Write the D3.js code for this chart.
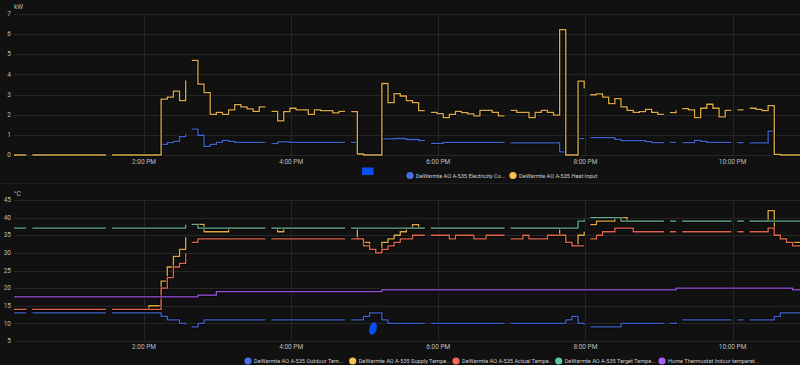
<!DOCTYPE html>
<html>
<head>
<meta charset="utf-8">
<script src="https://cdn.jsdelivr.net/npm/d3@7"></script>
<style>
  body { margin: 0; background: #111111; overflow: hidden; }
  svg { display: block; font-family: Roboto, "Noto Sans", sans-serif; }
</style>
</head>
<body>
<svg id="chart" width="800" height="365"></svg>
<script>
// time window and ticks
const timeStart = "12:14";
const timeEnd = "22:55";
const timeTicks = ["14:00", "16:00", "18:00", "20:00", "22:00"];
const kwTicks = [0, 1, 2, 3, 4, 5, 6, 7];
const tempTicks = [5, 10, 15, 20, 25, 30, 35, 40, 45];

// series: list of segments, each segment = [time, value] steps (gaps between segments)
const electricity = [
  [["12:14", 0], ["12:24", 0]],
  [["12:29", 0], ["13:29", 0]],
  [["13:34", 0], ["14:14", 0.53], ["14:19", 0.61], ["14:24", 0.68], ["14:29", 0.91], ["14:34", 1.06]],
  [["14:39", 1.28], ["14:44", 0.98], ["14:49", 0.43], ["14:54", 0.53], ["14:59", 0.63], ["15:04", 0.73], ["15:09", 0.68], ["15:14", 0.63], ["15:39", 0.63]],
  [["15:44", 0.56], ["15:49", 0.65], ["15:59", 0.63], ["16:44", 0.63]],
  [["16:49", 0.63], ["16:54", 0.05], ["16:59", 0], ["17:14", 0.8], ["17:24", 0.82], ["17:34", 0.77], ["17:44", 0.72], ["17:49", 0.72]],
  [["17:54", 0.58], ["18:04", 0.63], ["18:54", 0.63]],
  [["18:59", 0.6], ["19:39", 0.16], ["19:44", 0], ["19:54", 0.81], ["19:59", 0.81]],
  [["20:04", 0.86], ["20:24", 0.78], ["20:29", 0.71], ["20:49", 0.66], ["20:54", 0.61], ["21:04", 0.61]],
  [["21:09", 0.63], ["21:14", 0.63]],
  [["21:19", 0.61], ["21:29", 0.73], ["21:34", 0.68], ["21:39", 0.63], ["21:59", 0.63]],
  [["22:04", 0.61], ["22:09", 0.61]],
  [["22:14", 0.6], ["22:29", 1.19], ["22:34", 0], ["22:55", 0]]
];

const heatInput = [
  [["12:14", 0], ["12:24", 0]],
  [["12:29", 0], ["13:29", 0]],
  [["13:34", 0], ["14:14", 2.77], ["14:19", 2.87], ["14:24", 3.17], ["14:29", 2.7], ["14:34", 3.7]],
  [["14:39", 4.7], ["14:44", 3.52], ["14:49", 3.1], ["14:54", 2.02], ["14:59", 2.12], ["15:04", 2.02], ["15:09", 2.24], ["15:14", 2.5], ["15:19", 2.39], ["15:24", 2.29], ["15:29", 2.17], ["15:34", 2.39], ["15:39", 2.39]],
  [["15:44", 2.17], ["15:49", 1.69], ["15:54", 2.15], ["15:59", 2.32], ["16:04", 2.24], ["16:14", 2.02], ["16:19", 2.24], ["16:24", 2.2], ["16:34", 2.09], ["16:39", 2.17], ["16:44", 2.17]],
  [["16:49", 2.15], ["16:54", 0.05], ["16:59", 0], ["17:14", 3.55], ["17:19", 2.6], ["17:24", 3.05], ["17:29", 2.93], ["17:34", 2.7], ["17:39", 2.6], ["17:44", 2.2], ["17:49", 2.2]],
  [["17:54", 2.12], ["17:59", 2.05], ["18:04", 1.86], ["18:09", 2.02], ["18:14", 2.17], ["18:19", 2.1], ["18:24", 2.04], ["18:29", 1.94], ["18:34", 2.22], ["18:44", 2.12], ["18:49", 1.94], ["18:54", 1.94]],
  [["18:59", 2.22], ["19:04", 2.12], ["19:14", 1.86], ["19:19", 2.12], ["19:24", 2.22], ["19:29", 2.12], ["19:34", 1.98], ["19:39", 6.22], ["19:44", 0], ["19:54", 3.67], ["19:59", 3.32]],
  [["20:04", 2.99], ["20:09", 3.03], ["20:14", 2.87], ["20:19", 2.55], ["20:24", 2.8], ["20:29", 2.39], ["20:34", 2.22], ["20:39", 2.12], ["20:44", 2.15], ["20:49", 2.27], ["20:54", 2.12], ["20:59", 2.02], ["21:04", 2.02]],
  [["21:09", 2.1], ["21:14", 2.22]],
  [["21:19", 2.3], ["21:24", 2.24], ["21:29", 1.86], ["21:34", 2.32], ["21:39", 2.52], ["21:44", 2.32], ["21:49", 1.89], ["21:54", 2.22], ["21:59", 2.22]],
  [["22:04", 2.24], ["22:09", 2.24]],
  [["22:14", 2.32], ["22:19", 2.27], ["22:24", 2.2], ["22:29", 2.45], ["22:34", 0.03], ["22:39", 0], ["22:55", 0]]
];

const outdoorTemp = [
  [["12:14", 13], ["12:24", 13]],
  [["12:29", 13], ["13:29", 13]],
  [["13:34", 13], ["14:14", 12], ["14:19", 11], ["14:29", 10], ["14:34", 9.6]],
  [["14:39", 9], ["14:44", 10], ["14:49", 11], ["15:39", 11]],
  [["15:44", 11], ["16:44", 11]],
  [["16:49", 11], ["16:59", 12], ["17:04", 13], ["17:14", 11], ["17:19", 10], ["17:49", 10]],
  [["17:54", 10], ["18:54", 10]],
  [["18:59", 10], ["19:44", 11], ["19:49", 12], ["19:54", 10], ["19:59", 9.6]],
  [["20:04", 9], ["20:29", 10], ["21:04", 10]],
  [["21:09", 10], ["21:14", 10.3]],
  [["21:19", 11], ["21:59", 11]],
  [["22:04", 11], ["22:09", 11]],
  [["22:14", 11], ["22:34", 12], ["22:39", 13], ["22:55", 13]]
];

const supplyTemp = [
  [["12:14", 14], ["12:24", 14]],
  [["12:29", 14], ["13:29", 14]],
  [["13:34", 14], ["14:04", 15], ["14:14", 22], ["14:19", 26], ["14:24", 29], ["14:29", 31], ["14:34", 34.4]],
  [["14:39", 38.1], ["14:49", 36], ["15:09", 37], ["15:39", 37]],
  [["15:44", 37], ["15:49", 36], ["15:54", 37], ["16:44", 37]],
  [["16:49", 37], ["16:54", 34], ["16:59", 33], ["17:04", 31], ["17:09", 30], ["17:14", 33], ["17:19", 34], ["17:24", 35], ["17:29", 36], ["17:34", 37], ["17:39", 38], ["17:44", 37], ["17:49", 37]],
  [["17:54", 37], ["18:54", 37]],
  [["18:59", 37], ["19:39", 35], ["19:44", 33], ["19:49", 32], ["19:54", 35], ["19:59", 36]],
  [["20:04", 38], ["20:09", 39], ["20:24", 40], ["20:34", 39], ["21:04", 39]],
  [["21:09", 39], ["21:14", 39]],
  [["21:19", 39], ["21:59", 39]],
  [["22:04", 39], ["22:09", 39]],
  [["22:14", 39], ["22:29", 42], ["22:34", 35], ["22:39", 34], ["22:44", 33], ["22:55", 33]]
];

const actualTemp = [
  [["12:14", 14], ["12:24", 14]],
  [["12:29", 14], ["13:29", 14]],
  [["13:34", 14], ["14:14", 20], ["14:19", 23], ["14:24", 26], ["14:29", 27], ["14:34", 30]],
  [["14:39", 33], ["14:44", 34], ["15:39", 34]],
  [["15:44", 34], ["16:44", 34]],
  [["16:49", 34], ["16:59", 32], ["17:04", 31], ["17:09", 30], ["17:14", 31], ["17:19", 32], ["17:24", 33], ["17:29", 34], ["17:39", 35], ["17:49", 35]],
  [["17:54", 35], ["18:09", 34], ["18:14", 35], ["18:29", 34], ["18:39", 35], ["18:54", 35]],
  [["18:59", 34], ["19:09", 35], ["19:14", 34], ["19:29", 35], ["19:44", 33], ["19:49", 32], ["19:59", 32]],
  [["20:04", 34], ["20:09", 35], ["20:14", 36], ["20:24", 37], ["20:39", 36], ["21:04", 36]],
  [["21:09", 36], ["21:14", 36]],
  [["21:19", 36], ["21:59", 36]],
  [["22:04", 36], ["22:09", 36]],
  [["22:14", 36], ["22:29", 37], ["22:34", 35], ["22:39", 34], ["22:44", 33], ["22:49", 32], ["22:55", 32]]
];

const targetTemp = [
  [["12:14", 37], ["12:24", 37]],
  [["12:29", 37], ["13:29", 37]],
  [["13:34", 37], ["14:34", 38]],
  [["14:39", 38.1], ["14:44", 37], ["15:39", 37]],
  [["15:44", 37], ["16:44", 37]],
  [["16:49", 37], ["17:49", 37]],
  [["17:54", 37], ["18:54", 37]],
  [["18:59", 37], ["19:54", 39], ["19:59", 39.5]],
  [["20:04", 40], ["20:29", 39], ["21:04", 39]],
  [["21:09", 39], ["21:14", 39]],
  [["21:19", 39], ["21:59", 39]],
  [["22:04", 39], ["22:09", 39]],
  [["22:14", 39], ["22:55", 39]]
];

const indoorTemp = [
  [["12:14", 17.5], ["14:44", 18], ["14:59", 19], ["17:14", 19.5], ["21:14", 20], ["22:49", 19.5], ["22:55", 19.5]]
];

const topNames = ["DeWarmte AO A-535 Electricity Co...", "DeWarmte AO A-535 Heat Input"];
const bottomNames = ["DeWarmte AO A-535 Outdoor Tem...", "DeWarmte AO A-535 Supply Tempe...",
  "DeWarmte AO A-535 Actual Tempe...", "DeWarmte AO A-535 Target Tempe...", "Home Thermostat Indoor temperat..."];

const parse = d3.timeParse("%H:%M");
const svg = d3.select("#chart");

const x = d3.scaleTime()
  .domain([parse(timeStart), parse(timeEnd)])
  .range([14, 800]);
const yKw = d3.scaleLinear().domain([0, 7]).range([155, 14]);
const yTemp = d3.scaleLinear().domain([5, 45]).range([341, 200]);

// turn segments into one point list with null breaks
function flat(segs) {
  const out = [];
  segs.forEach((s, i) => {
    if (i > 0) out.push(null);
    s.forEach(p => out.push({ t: parse(p[0]), v: p[1] }));
  });
  return out;
}

function panel(y, ticks, unit, unitY, labelY) {
  const g = svg.append("g");
  // horizontal grid
  g.selectAll(".hg").data(ticks).enter().append("line")
    .attr("x1", 14).attr("x2", 800)
    .attr("y1", d => Math.round(y(d)) + 0.5).attr("y2", d => Math.round(y(d)) + 0.5)
    .attr("stroke", "#262626").attr("stroke-width", 1);
  // vertical grid
  g.selectAll(".vg").data(timeTicks).enter().append("line")
    .attr("x1", d => Math.round(x(parse(d))) + 0.5).attr("x2", d => Math.round(x(parse(d))) + 0.5)
    .attr("y1", y.range()[1]).attr("y2", y.range()[0])
    .attr("stroke", "#262626").attr("stroke-width", 1);
  // y labels
  g.selectAll(".yl").data(ticks).enter().append("text")
    .attr("x", 11).attr("y", d => y(d) + 2.2)
    .attr("text-anchor", "end")
    .attr("font-size", 6.5).attr("fill", "#bdbdbd")
    .text(d => d);
  g.append("text").attr("x", 14).attr("y", unitY)
    .attr("font-size", 6.5).attr("fill", "#bdbdbd").text(unit);
  // x labels
  g.selectAll(".xl").data(timeTicks).enter().append("text")
    .attr("x", d => x(parse(d))).attr("y", labelY)
    .attr("text-anchor", "middle")
    .attr("font-size", 6.5).attr("fill", "#bdbdbd")
    .text(d => d3.timeFormat("%-I:%M %p")(parse(d)));
  return g;
}

function drawLine(g, y, segs, color) {
  const line = d3.line()
    .defined(d => d !== null)
    .x(d => x(d.t)).y(d => y(d.v))
    .curve(d3.curveStepAfter);
  const data = flat(segs);
  g.append("path").attr("d", line(data))
    .attr("fill", "none").attr("stroke", "#000").attr("stroke-opacity", 0.7)
    .attr("stroke-width", 3).attr("stroke-linejoin", "miter");
  g.append("path").attr("d", line(data))
    .attr("fill", "none").attr("stroke", color)
    .attr("stroke-width", 1.3).attr("stroke-linejoin", "miter");
}

// separator between the two cards
svg.append("rect").attr("x", 0).attr("y", 183).attr("width", 800).attr("height", 1).attr("fill", "#1f1f1f");

const topPanel = panel(yKw, kwTicks, "kW", 9, 164);
drawLine(topPanel, yKw, electricity, "#3f63c9");
drawLine(topPanel, yKw, heatInput, "#dcaa45");

const bottomPanel = panel(yTemp, tempTicks, "°C", 196, 349);
drawLine(bottomPanel, yTemp, outdoorTemp, "#3f63c9");
drawLine(bottomPanel, yTemp, supplyTemp, "#dcaa45");
drawLine(bottomPanel, yTemp, actualTemp, "#e0654f");
drawLine(bottomPanel, yTemp, targetTemp, "#5fb093");
drawLine(bottomPanel, yTemp, indoorTemp, "#9b55e0");

// legends
const topColors = ["#4a6fe3", "#f5c14a"];
const topX = [410, 513];
topNames.forEach((n, i) => {
  svg.append("circle").attr("cx", topX[i]).attr("cy", 175.5).attr("r", 3.6).attr("fill", topColors[i]);
  svg.append("text").attr("x", topX[i] + 6).attr("y", 177.6)
    .attr("font-size", 5.6).attr("fill", "#cfcfcf").text(n);
});
svg.append("rect").attr("x", 362).attr("y", 167.5).attr("width", 11.5).attr("height", 7.5).attr("fill", "#0a4ff5");

const bottomColors = ["#4a6fe3", "#f5c14a", "#f26a57", "#5cc7a5", "#a65ff2"];
const bottomX = [248, 352.7, 456, 558.7, 662];
bottomNames.forEach((n, i) => {
  svg.append("circle").attr("cx", bottomX[i]).attr("cy", 361).attr("r", 3.6).attr("fill", bottomColors[i]);
  svg.append("text").attr("x", bottomX[i] + 6).attr("y", 363.1)
    .attr("font-size", 5.6).attr("fill", "#cfcfcf").text(n);
});

// stray blue mark on the lower card
svg.append("ellipse").attr("cx", 373).attr("cy", 328.5).attr("rx", 3.6).attr("ry", 6.3)
  .attr("transform", "rotate(15 373 328.5)").attr("fill", "#0a4ff5");
</script>
</body>
</html>
